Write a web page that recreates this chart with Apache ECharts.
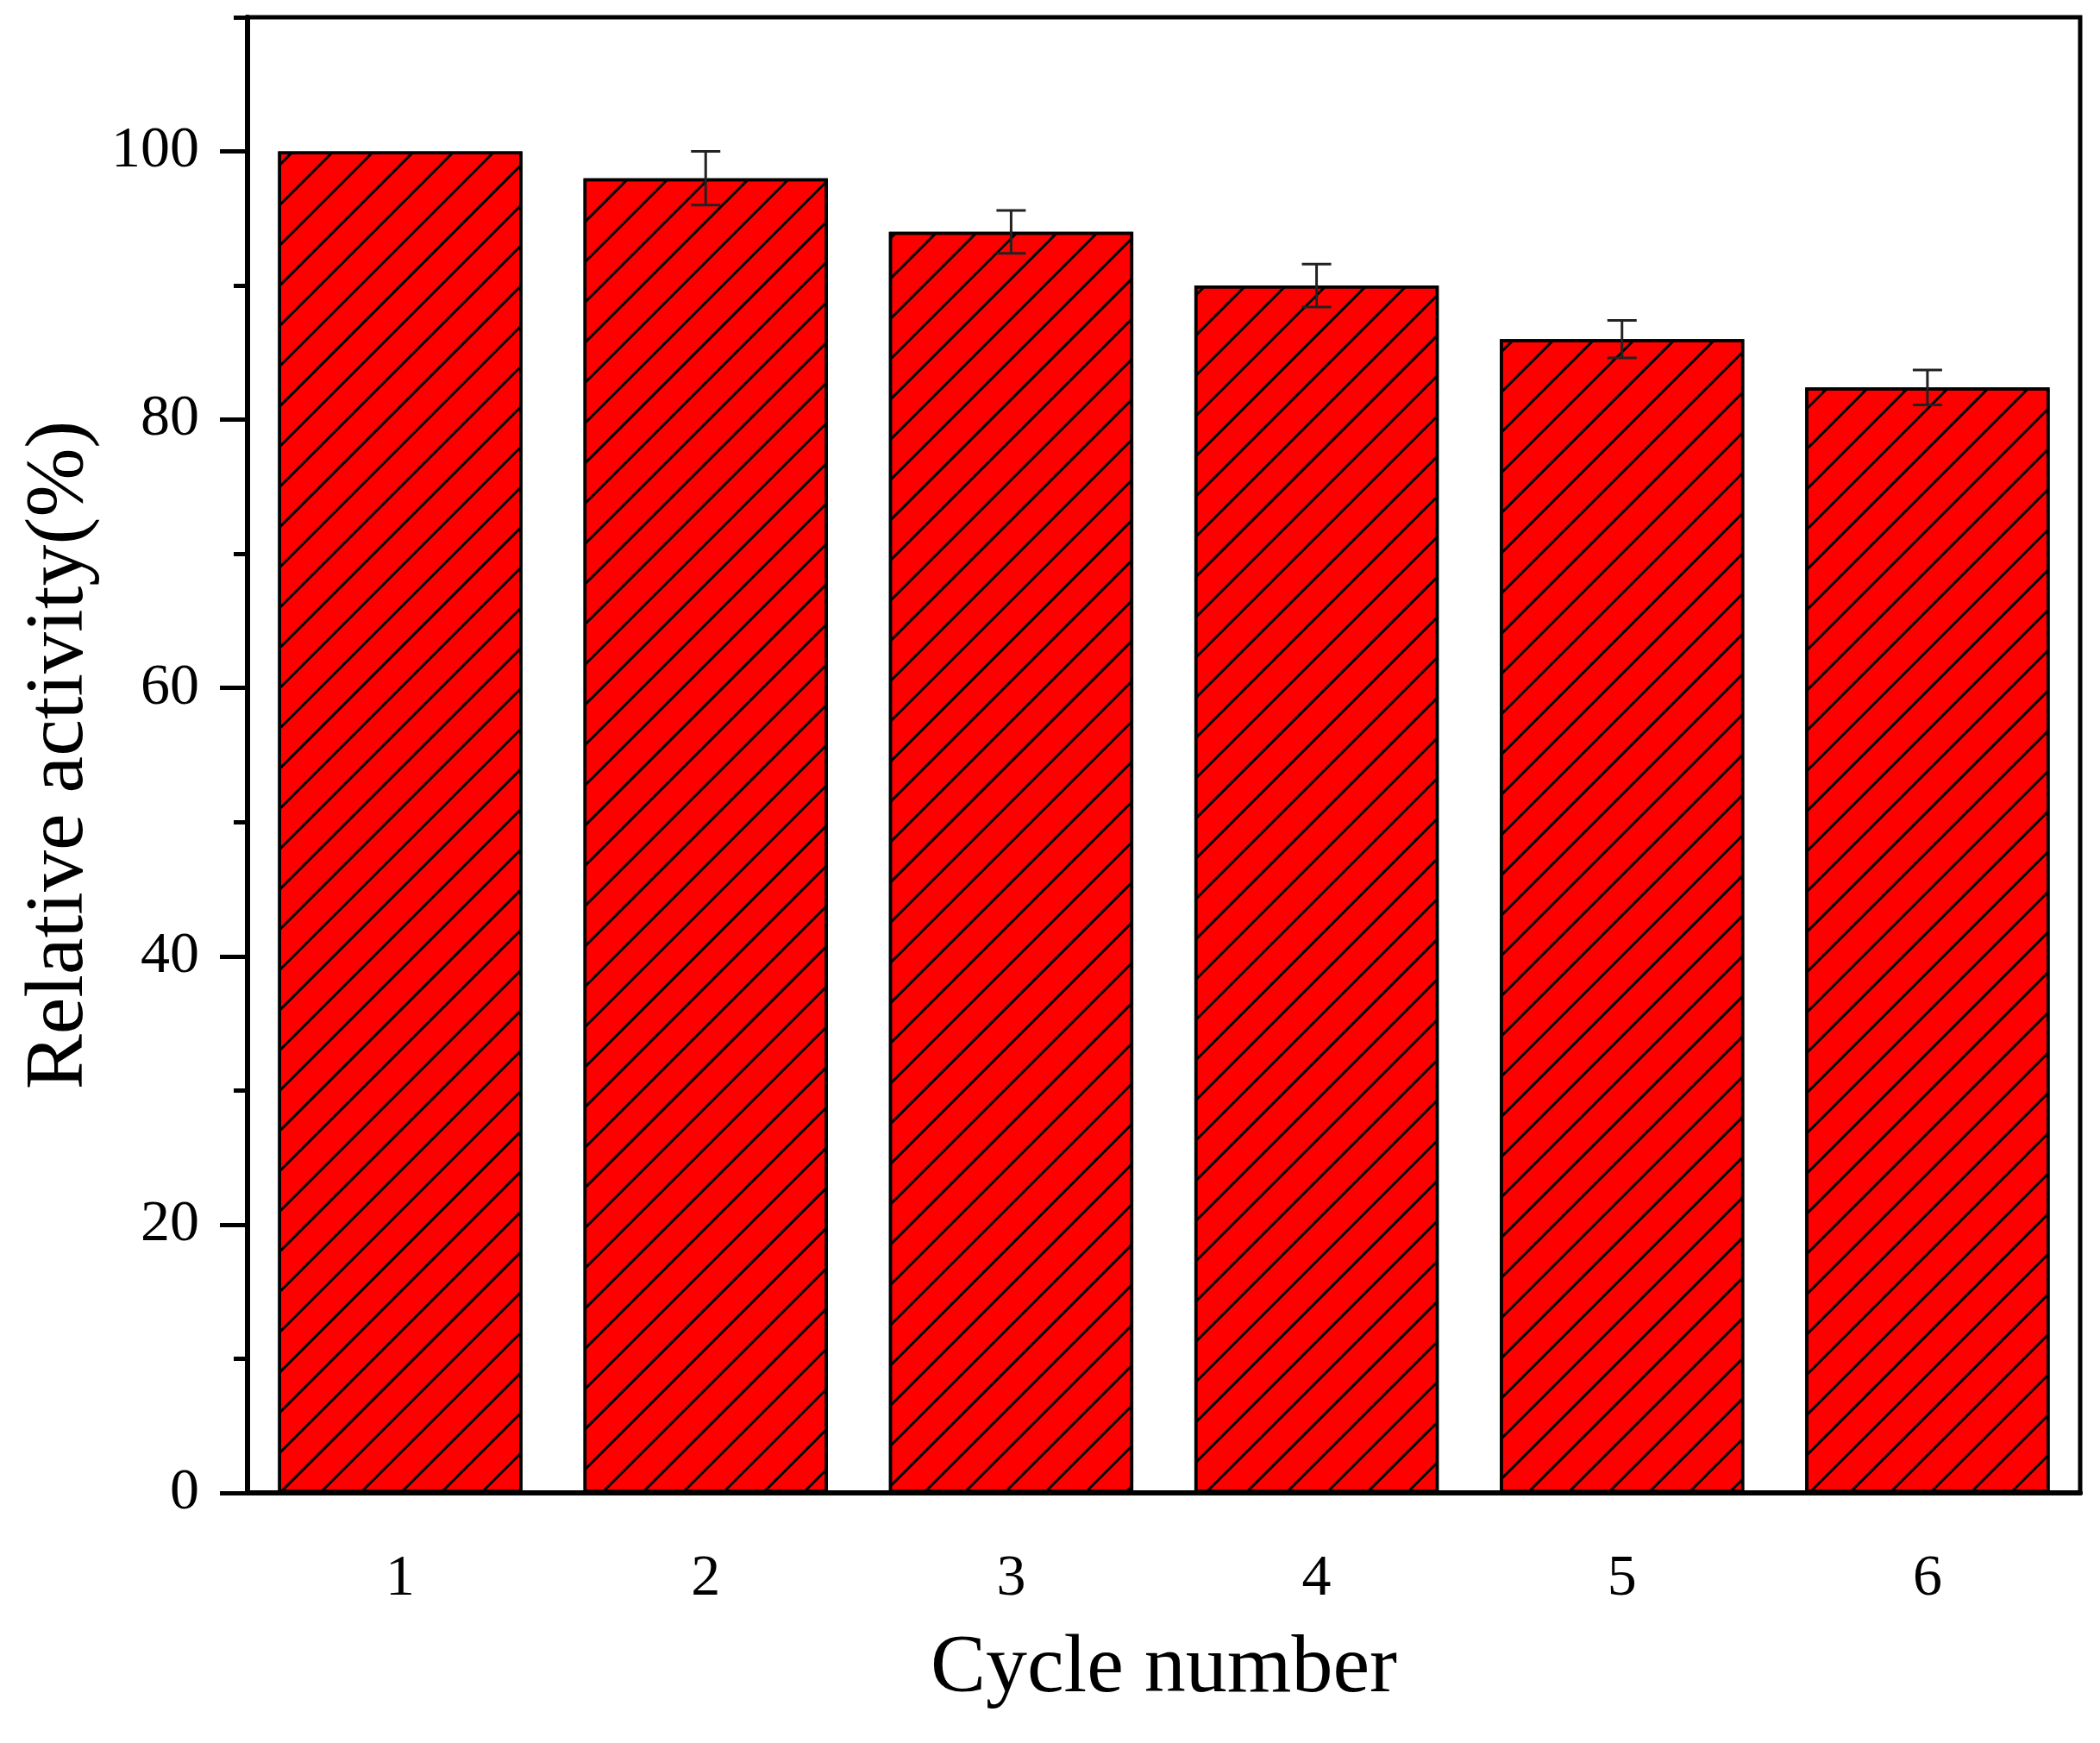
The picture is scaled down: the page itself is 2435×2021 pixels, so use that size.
<!DOCTYPE html>
<html>
<head>
<meta charset="utf-8">
<title>Relative activity vs cycle number</title>
<script src="https://cdn.jsdelivr.net/npm/echarts@6/dist/echarts.min.js"></script>
<style>
  html, body { margin: 0; padding: 0; background: #fff; }
  #chart { width: 2435px; height: 2021px; }
</style>
</head>
<body>
<div id="chart"></div>
<script>
// data
const cycles = ['1', '2', '3', '4', '5', '6'];
const activity = [100, 98, 94, 90, 86, 82.4];
const activityErr = [0, 2, 1.6, 1.6, 1.4, 1.3];
const yMajorTicks = [0, 20, 40, 60, 80, 100];
const yMinorTicks = [10, 30, 50, 70, 90, 110];

const serif = '"Liberation Serif", "Times New Roman", serif';

// error bar rows: [index, value, err]
const errRows = activity.map(function (v, i) { return [i, v, activityErr[i]]; });

const chart = echarts.init(document.getElementById('chart'), null, { renderer: 'canvas' });

chart.setOption({
    animation: false,
    backgroundColor: '#fff',
    grid: {
        left: 287, right: 23, top: 20, bottom: 290,
        show: true, borderColor: '#000', borderWidth: 5, backgroundColor: 'transparent'
    },
    xAxis: [{
        type: 'category',
        data: cycles,
        position: 'bottom',
        axisLine: { lineStyle: { color: '#000', width: 6 } },
        axisTick: { alignWithLabel: true, length: 33, lineStyle: { color: '#000', width: 6 } },
        axisLabel: { margin: 66, fontSize: 68, color: '#000', fontFamily: serif },
        name: 'Cycle number',
        nameLocation: 'middle',
        nameGap: 157,
        nameTextStyle: { fontSize: 96, color: '#000', fontFamily: serif },
        splitLine: { show: false }
    }, {
        // short ticks on the category boundaries
        type: 'category',
        data: cycles,
        position: 'bottom',
        axisLine: { show: false },
        axisTick: { length: 15, lineStyle: { color: '#000', width: 6 } },
        axisLabel: { show: false },
        splitLine: { show: false }
    }],
    yAxis: [{
        type: 'value',
        min: 0, max: 110, interval: 10,
        position: 'left',
        axisLine: { show: true, lineStyle: { color: '#000', width: 6 } },
        axisTick: { show: true, length: 32, customValues: yMajorTicks, lineStyle: { color: '#000', width: 5 } },
        axisLabel: { margin: 56, fontSize: 68, color: '#000', fontFamily: serif, customValues: yMajorTicks },
        splitLine: { show: false },
        name: 'Relative activity(%)',
        nameLocation: 'middle',
        nameGap: 165,
        nameTextStyle: { fontSize: 96, color: '#000', fontFamily: serif }
    }, {
        // minor ticks
        type: 'value',
        min: 0, max: 110, interval: 10,
        position: 'left',
        axisLine: { show: false },
        axisTick: { show: true, length: 16, customValues: yMinorTicks, lineStyle: { color: '#000', width: 5 } },
        axisLabel: { show: false },
        splitLine: { show: false }
    }],
    series: [{
        type: 'bar',
        data: activity,
        xAxisIndex: 0,
        yAxisIndex: 0,
        barCategoryGap: '20%',
        itemStyle: {
            color: '#ff0000',
            borderColor: '#000',
            borderWidth: 3.5,
            decal: {
                symbol: 'rect',
                symbolSize: 1,
                color: '#000',
                dashArrayX: [1, 0],
                dashArrayY: [2.6, 30],
                rotation: -Math.PI / 4
            }
        }
    }, {
        type: 'custom',
        xAxisIndex: 0,
        yAxisIndex: 0,
        data: errRows,
        encode: { x: 0, y: 1 },
        z: 5,
        renderItem: function (params, api) {
            const i = api.value(0);
            const v = api.value(1);
            const e = api.value(2);
            if (!e) {
                return null;
            }
            const hi = api.coord([i, v + e]);
            const lo = api.coord([i, v - e]);
            const cap = 17;
            const st = { stroke: '#222', lineWidth: 3 };
            return {
                type: 'group',
                children: [
                    { type: 'line', shape: { x1: hi[0], y1: hi[1], x2: lo[0], y2: lo[1] }, style: st },
                    { type: 'line', shape: { x1: hi[0] - cap, y1: hi[1], x2: hi[0] + cap, y2: hi[1] }, style: st },
                    { type: 'line', shape: { x1: lo[0] - cap, y1: lo[1], x2: lo[0] + cap, y2: lo[1] }, style: st }
                ]
            };
        }
    }]
});
</script>
</body>
</html>
